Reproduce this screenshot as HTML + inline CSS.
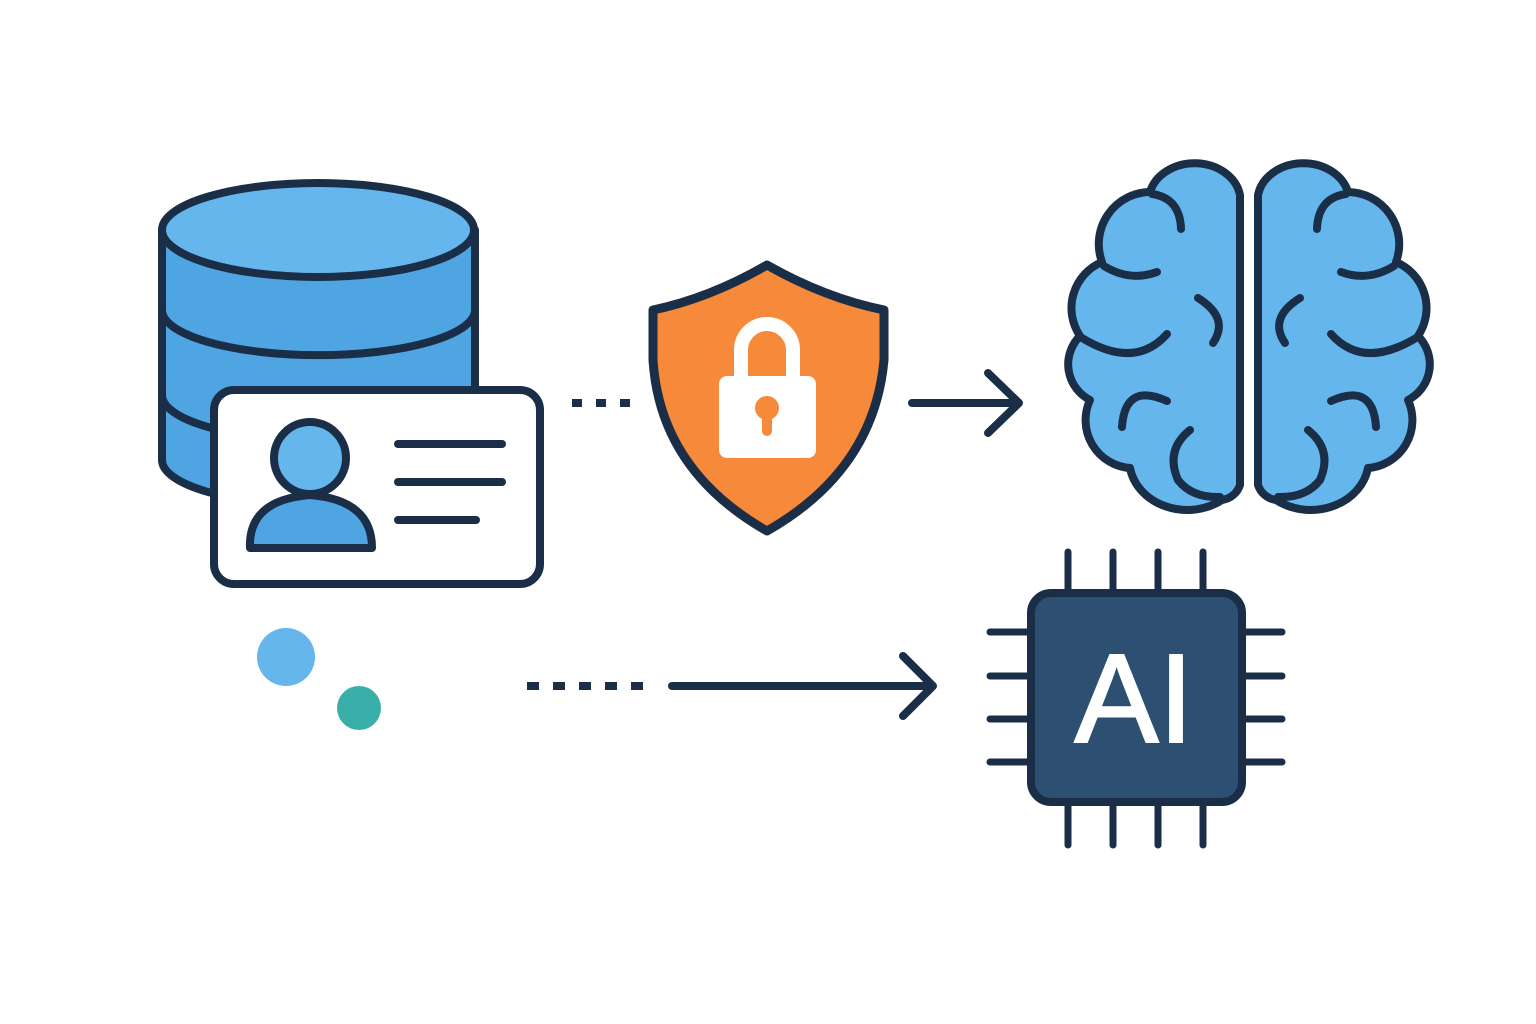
<!DOCTYPE html>
<html><head><meta charset="utf-8"><style>
html,body{margin:0;padding:0;background:#fff;}
svg{display:block}
</style></head><body>
<svg width="1536" height="1024" viewBox="0 0 1536 1024" xmlns="http://www.w3.org/2000/svg">
<g stroke="#1b2e47" stroke-width="8" stroke-linecap="round" stroke-linejoin="round">
<!-- database -->
<path d="M162,230 L162,460 A156,45 0 0 0 475,460 L475,230 Z" fill="#4fa4e2"/>
<path d="M162,310 A156,45 0 0 0 475,310" fill="none"/>
<path d="M162,395 A156,45 0 0 0 475,395" fill="none"/>
<ellipse cx="318" cy="230" rx="156" ry="47" fill="#65b6ec"/>
<!-- card -->
<rect x="214" y="390" width="326" height="194" rx="20" fill="#fff"/>
<circle cx="310" cy="458" r="36" fill="#65b6ec"/>
<path d="M250,548 Q248,500 310,495 Q372,500 372,548 Z" fill="#4fa4e2"/>
<line x1="398" y1="444" x2="502" y2="444"/>
<line x1="398" y1="482" x2="502" y2="482"/>
<line x1="398" y1="520" x2="476" y2="520"/>
<!-- shield -->
<path d="M767,265 Q710,298 653,310 L653,360 Q660,470 767,531 Q874,470 884,360 L884,310 Q825,298 767,265 Z" fill="#f78a3a" stroke-width="9"/>
<!-- arrows -->
<line x1="572" y1="403" x2="632" y2="403" stroke-dasharray="10,14" stroke-linecap="butt"/>
<line x1="912" y1="403" x2="1018" y2="403"/>
<polyline points="988,373 1019,403 988,433" fill="none"/>
<line x1="527" y1="686" x2="655" y2="686" stroke-dasharray="12,14" stroke-linecap="butt"/>
<line x1="672" y1="686" x2="932" y2="686"/>
<polyline points="903,656 933,686 903,716" fill="none"/>
<!-- chip pins -->
<g stroke-width="7">
<line x1="1068" y1="552" x2="1068" y2="845"/>
<line x1="1113" y1="552" x2="1113" y2="845"/>
<line x1="1158" y1="552" x2="1158" y2="845"/>
<line x1="1203" y1="552" x2="1203" y2="845"/>
<line x1="990" y1="632" x2="1282" y2="632"/>
<line x1="990" y1="676" x2="1282" y2="676"/>
<line x1="990" y1="719" x2="1282" y2="719"/>
<line x1="990" y1="762" x2="1282" y2="762"/>
</g>
<rect x="1031" y="593" width="211" height="209" rx="20" fill="#2d4f71"/>
<!-- brain -->
<g id="hemi" fill="#65b6ec">
<path d="M1240,485 L1240,195 A46,38 0 0 0 1150,192 A52,52 0 0 0 1102,262 A50,50 0 0 0 1080,336 A40,40 0 0 0 1090,400 A48,48 0 0 0 1130,468 A58,50 0 0 0 1222,500 A22,22 0 0 0 1240,485 Z"/>
<path d="M1181,229 Q1180,198 1152,194" fill="none"/>
<path d="M1157,272 Q1130,282 1104,266" fill="none"/>
<path d="M1167,334 Q1135,370 1082,338" fill="none"/>
<path d="M1198,298 Q1230,318 1213,343" fill="none"/>
<path d="M1167,401 Q1125,382 1122,427" fill="none"/>
<path d="M1190,430 Q1165,450 1178,480 Q1192,498 1220,497" fill="none"/>
</g>
<use href="#hemi" transform="translate(2498,0) scale(-1,1)"/>
</g>
<!-- lock -->
<path d="M741,378 L741,350 A26,26 0 0 1 793,350 L793,378" fill="none" stroke="#fff" stroke-width="14"/>
<rect x="719" y="376" width="97" height="82" rx="8" fill="#fff"/>
<circle cx="767" cy="408" r="12" fill="#f78a3a"/>
<rect x="762" y="410" width="10" height="26" rx="5" fill="#f78a3a"/>
<!-- dots -->
<circle cx="286" cy="657" r="29" fill="#65b6ec"/>
<circle cx="359" cy="708" r="22" fill="#3aafa9"/>
<!-- AI -->
<text x="1134" y="742" text-anchor="middle" font-family="Liberation Sans, sans-serif" font-size="126" fill="#fff" stroke="#fff" stroke-width="2">AI</text>
</svg>
</body></html>
